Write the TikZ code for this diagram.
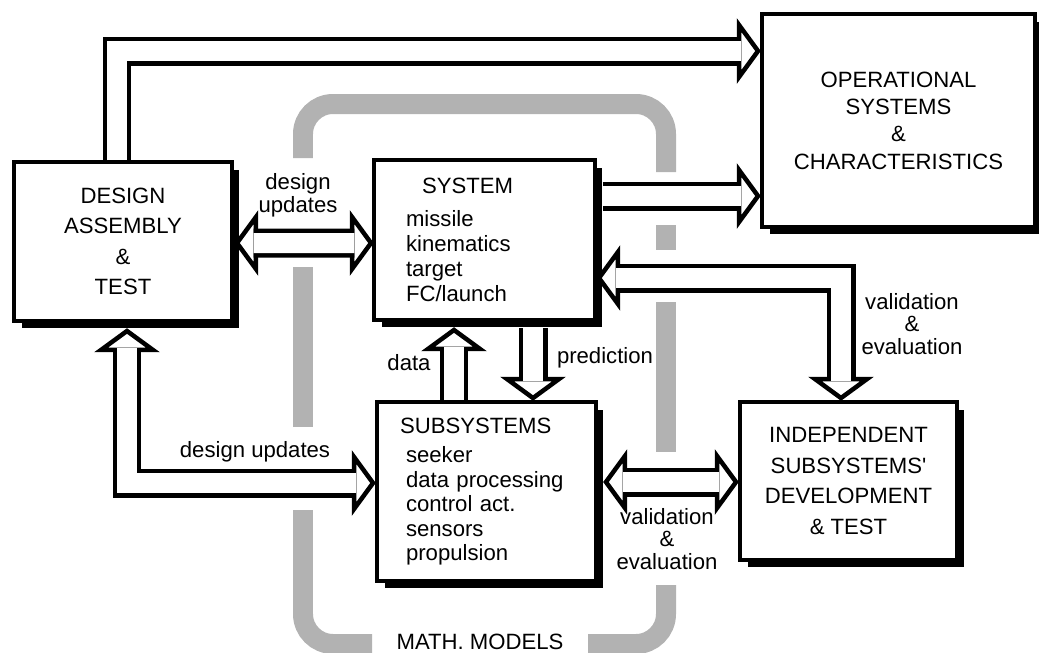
\documentclass[tikz,border=0pt]{standalone}
\usepackage{fontspec}
\setmainfont{Liberation Sans}
\usepackage{tikz}
\usetikzlibrary{calc,shadows}

% open arrow head: #1 = tip, #2 = a point behind it
\newcommand{\blockhead}[2]{%
  \draw[head] ($(#1)!0.38cm!(#2)!0.52cm!90:(#1)$) -- (#1)
    -- ($(#1)!0.38cm!(#2)!0.52cm!-90:(#1)$) -- cycle;}

\begin{document}
\begin{tikzpicture}[x=0.02cm, y=-0.02cm,
    box/.style={draw, fill=white, line width=0.08cm, inner sep=0pt, align=center,
      drop shadow={shadow xshift=0.15cm, shadow yshift=-0.15cm, fill=black, opacity=1}},
    leading/.style={font=\fontsize{12.6}{#1}\selectfont},
    lbl/.style={inner sep=0pt, align=center, leading=13pt},
    head/.style={draw, fill=white, line width=0.09cm},
    shaft/.style={line width=0.09cm, double=white, double distance=0.4cm},
    band/.style={line width=0.4cm, black!30}]

        \useasboundingbox (0,0) rectangle (1039,653);

        % Math models band
        \begin{scope}[rounded corners=0.6cm]
        \draw[band] (303,158) -- (303,104) -- (666,104) -- (666,172);
        \draw[band] (666,225) -- (666,250);
        \draw[band] (666,302) -- (666,452);
        \draw[band] (666,585) -- (666,644) -- (588,644);
        \draw[band] (372,644) -- (303,644) -- (303,510);
        \draw[band] (303,427) -- (303,267);
        \end{scope}
        \node[lbl] (math) at (480,642) {MATH. MODELS};

        % Boxes
        \node[box, leading=17.3pt, minimum width=4.36cm, minimum height=3.18cm]
            (dat) at (123,241.5) {DESIGN\\ASSEMBLY\\\&\\TEST};
        \node[box, leading=14.2pt, align=left, text width=3.14cm,
            minimum width=4.42cm, minimum height=3.2cm]
            (sys) at (484.5,240) {\hspace*{0.32cm}SYSTEM\\[4.5pt]missile\\kinematics\\target\\FC/launch};
        \node[box, leading=15.6pt, minimum width=5.46cm, minimum height=4.26cm]
            (ops) at (898.5,120.5) {OPERATIONAL\\SYSTEMS\\\&\\CHARACTERISTICS};
        \node[box, leading=13.9pt, align=left, text width=3.22cm,
            minimum width=4.38cm, minimum height=3.58cm]
            (sub) at (486.5,491.5) {\hspace*{-0.12cm}SUBSYSTEMS\\[3pt]seeker\\data processing\\control act.\\sensors\\propulsion};
        \node[box, leading=17.6pt, minimum width=4.34cm, minimum height=3.16cm]
            (ind) at (848.5,481) {INDEPENDENT\\SUBSYSTEMS\textquotesingle\\DEVELOPMENT\\\& TEST};

        % Design <-> system
        \coordinate (du1) at ($(dat.east)+(3,1.5)$);
        \coordinate (du2) at ($(sys.west)+(-1,3)$);
        \blockhead{du1}{du2}
        \blockhead{du2}{du1}
        \draw[shaft] ($(du1)!0.335cm!(du2)$) -- ($(du2)!0.335cm!(du1)$);
        \node[lbl] (lblup) at (298,195) {design\\updates};

        % Design -> operational
        \coordinate (t1) at ($(dat.north)+(-6,0)$);
        \coordinate (t2) at (t1 |- 0,51);
        \coordinate (t3) at ($(ops.west |- 0,51)+(-2,0)$);
        \blockhead{t3}{t2}
        \draw[shaft] (t1) -- (t2) -- ($(t3)!0.335cm!(t2)$);

        % System -> operational
        \coordinate (o1) at ($(sys.east |- 0,196)+(6,0)$);
        \coordinate (o2) at ($(ops.west |- 0,196)+(-2,0)$);
        \blockhead{o2}{o1}
        \draw[shaft] (o1) -- ($(o2)!0.335cm!(o1)$);

        % Independent <-> system
        \coordinate (v1) at ($(sys.east |- 0,278)+(2,0)$);
        \coordinate (v3) at ($(ind.north)+(-7.5,-2)$);
        \coordinate (v2) at (v3 |- v1);
        \blockhead{v1}{v2}
        \blockhead{v3}{v2}
        \draw[shaft] ($(v1)!0.335cm!(v2)$) -- (v2) -- ($(v3)!0.335cm!(v2)$);
        \node[lbl] (lblval) at (912,324) {validation\\\&\\evaluation};

        % Subsystems -> system
        \coordinate (d1) at ($(sub.north)+(-32.5,0)$);
        \coordinate (d2) at ($(d1 |- sys.south)+(0,8)$);
        \blockhead{d2}{d1}
        \draw[shaft] (d1) -- ($(d2)!0.335cm!(d1)$);
        \node[lbl] (lbldata) at (409,363) {data};

        % System -> subsystems
        \coordinate (p1) at ($(sys.south)+(48.5,6)$);
        \coordinate (p2) at ($(p1 |- sub.north)+(0,-2)$);
        \blockhead{p2}{p1}
        \draw[shaft] (p1) -- ($(p2)!0.335cm!(p1)$);
        \node[lbl] (lblpred) at (605,358) {prediction};

        % Design <-> subsystems
        \coordinate (e1) at ($(dat.south)+(4,8)$);
        \coordinate (e3) at ($(sub.west |- 0,483)+(-2,0)$);
        \coordinate (e2) at (e1 |- e3);
        \blockhead{e1}{e2}
        \blockhead{e3}{e2}
        \draw[shaft] ($(e1)!0.335cm!(e2)$) -- (e2) -- ($(e3)!0.335cm!(e2)$);
        \node[lbl] (lbldown) at (255,452) {design updates};

        % Subsystems <-> independent
        \coordinate (s1) at ($(sub.east |- 0,482)+(8,0)$);
        \coordinate (s2) at ($(ind.west |- 0,482)+(-2,0)$);
        \blockhead{s1}{s2}
        \blockhead{s2}{s1}
        \draw[shaft] ($(s1)!0.335cm!(s2)$) -- ($(s2)!0.335cm!(s1)$);
        \node[lbl] (lblval2) at (667,539) {validation\\\&\\evaluation};

\end{tikzpicture}
\end{document}
